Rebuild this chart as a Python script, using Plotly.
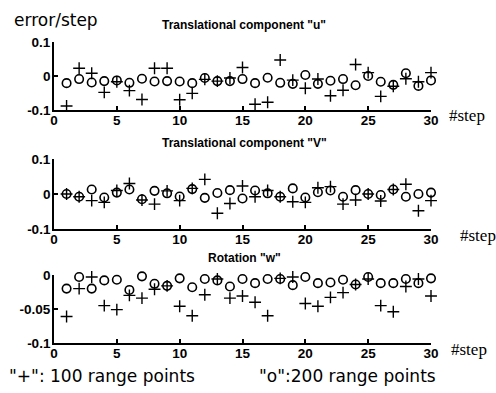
import plotly.graph_objects as go

steps = list(range(1, 31))

u_plus = [-0.088, 0.023, 0.008, -0.048, -0.017, -0.043, -0.069, 0.023, 0.023, -0.070,
          -0.051, -0.010, -0.015, -0.006, 0.025, -0.083, -0.077, 0.047, -0.012, -0.036,
          -0.009, -0.058, -0.042, 0.034, 0.010, -0.060, -0.030, -0.008, -0.017, 0.010]
u_circ = [-0.021, -0.009, -0.019, -0.015, -0.013, -0.020, -0.008, -0.016, -0.015, -0.016,
          -0.021, -0.006, -0.015, -0.015, -0.009, -0.021, -0.005, -0.020, -0.023, 0.003,
          -0.023, -0.014, -0.009, -0.027, 0.000, -0.017, -0.026, 0.008, -0.029, -0.013]

v_plus = [0.000, -0.008, -0.019, -0.024, 0.010, 0.030, -0.017, -0.029, 0.009, -0.019,
          0.016, 0.042, -0.055, -0.027, 0.023, -0.008, 0.010, -0.008, -0.022, -0.024,
          0.018, 0.021, -0.029, -0.017, 0.000, -0.020, 0.013, 0.028, -0.048, -0.019]
v_circ = [0.000, -0.008, 0.013, -0.010, 0.004, 0.013, -0.015, 0.009, 0.002, -0.007,
          0.014, -0.011, 0.003, 0.011, -0.013, 0.010, 0.002, -0.008, 0.016, -0.010,
          0.005, 0.010, -0.008, 0.011, 0.000, -0.003, 0.013, -0.008, 0.000, 0.004]

w_plus = [-0.061, -0.020, -0.003, -0.045, -0.051, -0.030, -0.034, -0.021, -0.016, -0.046,
          -0.060, -0.029, -0.006, -0.034, -0.031, -0.040, -0.060, -0.005, -0.003, -0.042,
          -0.046, -0.033, -0.026, -0.014, -0.006, -0.045, -0.054, -0.017, -0.006, -0.031]
w_circ = [-0.020, -0.003, -0.020, -0.008, -0.007, -0.022, -0.002, -0.013, -0.016, -0.005,
          -0.018, -0.006, -0.008, -0.017, -0.006, -0.012, -0.006, -0.006, -0.015, -0.003,
          -0.012, -0.011, -0.007, -0.014, -0.003, -0.012, -0.012, -0.006, -0.012, -0.005]

panel_titles = ['Translational component "u"', 'Translational component "V"', 'Rotation "w"']
x_ticks = [0, 5, 10, 15, 20, 25, 30]
y_ticks_uv = [0.1, 0, -0.1]
y_ticklabels_uv = ["0.1", "0", "-0.1"]
y_ticks_w = [0, -0.05, -0.1]
y_ticklabels_w = ["0", "-0.05", "-0.1"]

fig = go.Figure()

domains = [[0.774, 1.0], [0.379, 0.611], [0.0, 0.226]]
series = [(u_plus, u_circ), (v_plus, v_circ), (w_plus, w_circ)]

xtickfont = dict(family="Liberation Sans, Arial", size=13.5, color="black", weight="bold")
ytickfont = dict(family="Liberation Sans, Arial", size=13.5, color="black", weight="bold")

for i, (plus, circ) in enumerate(series):
    xa = "x" if i == 0 else f"x{i+1}"
    ya = "y" if i == 0 else f"y{i+1}"
    fig.add_trace(go.Scatter(x=steps, y=circ, mode="markers", xaxis=xa, yaxis=ya,
                             marker=dict(symbol="circle-open", size=8.5, color="black",
                                         line=dict(width=1.6, color="black")),
                             showlegend=False, cliponaxis=False))
    fig.add_trace(go.Scatter(x=steps, y=plus, mode="markers", xaxis=xa, yaxis=ya,
                             marker=dict(symbol="cross-thin-open", size=8.5, color="black",
                                         line=dict(width=1.4, color="black")),
                             showlegend=False, cliponaxis=False))
    xkey = "xaxis" if i == 0 else f"xaxis{i+1}"
    ykey = "yaxis" if i == 0 else f"yaxis{i+1}"
    fig.layout[xkey] = dict(domain=[0, 1], anchor=ya, range=[0, 30], tickvals=x_ticks,
                            ticks="inside", ticklen=4, tickwidth=1.5, tickcolor="black",
                            showline=True, linecolor="black", linewidth=1.8,
                            showgrid=False, zeroline=False, tickfont=xtickfont,
                            ticklabelstandoff=-3)
    if i < 2:
        yr, yt, yl = [-0.1, 0.1], y_ticks_uv, y_ticklabels_uv
    else:
        yr, yt, yl = [-0.1, 0], y_ticks_w, y_ticklabels_w
    fig.layout[ykey] = dict(domain=domains[i], anchor=xa, range=yr, tickvals=yt, ticktext=yl,
                            ticks="inside", ticklen=4, tickwidth=1.5, tickcolor="black",
                            showline=True, linecolor="black", linewidth=1.8,
                            showgrid=False, zeroline=False, tickfont=ytickfont,
                            ticklabelstandoff=-1)

annotations = []
title_y = [25, 143, 258]
for t, yy in zip(panel_titles, title_y):
    annotations.append(dict(text=t, x=244, y=yy, showarrow=False,
                            font=dict(family="Liberation Sans, Arial", size=12, color="black", weight="bold")))
step_pos = [(467, 116), (478, 235), (469, 349)]
for (sx, sy) in step_pos:
    annotations.append(dict(text="#step", x=sx, y=sy, showarrow=False,
                            font=dict(family="Liberation Serif, Times New Roman", size=17, color="black")))
annotations.append(dict(text="error/step", x=56, y=20, showarrow=False,
                        font=dict(family="DejaVu Sans", size=17, color="black")))
annotations.append(dict(text='"+": 100 range points', x=102, y=376, showarrow=False,
                        font=dict(family="DejaVu Sans", size=17, color="black")))
annotations.append(dict(text='"o":200 range points', x=347, y=376, showarrow=False,
                        font=dict(family="DejaVu Sans", size=17, color="black")))

# convert pixel positions to paper coords
L, R, T, B = 54, 65, 42, 50
W, H = 496, 393
pw, ph = W - L - R, H - T - B
for a in annotations:
    a["xref"] = "paper"
    a["yref"] = "paper"
    a["x"] = (a["x"] - L) / pw
    a["y"] = (H - B - a["y"]) / ph
    a["xanchor"] = "center"
    a["yanchor"] = "middle"

fig.update_layout(width=W, height=H, margin=dict(l=L, r=R, t=T, b=B),
                  paper_bgcolor="white", plot_bgcolor="white", annotations=annotations,
                  font=dict(family="Liberation Sans, Arial", color="black"))

fig.write_html("out.html")
